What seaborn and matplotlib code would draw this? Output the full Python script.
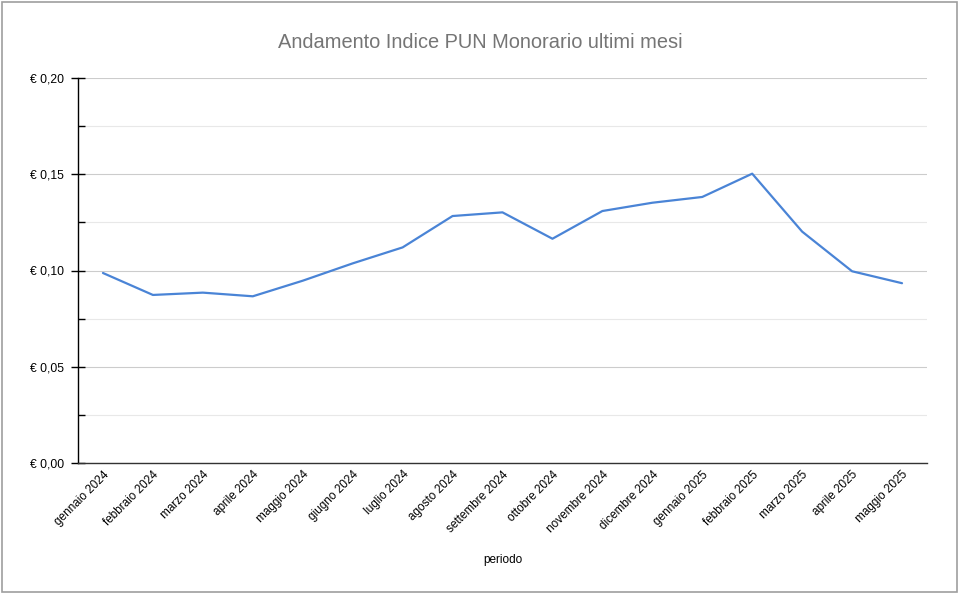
import matplotlib
matplotlib.use("Agg")
import matplotlib.pyplot as plt
import matplotlib.ticker as mticker
from matplotlib.patches import Rectangle
import seaborn as sns
import pandas as pd

periodi = ["gennaio 2024", "febbraio 2024", "marzo 2024", "aprile 2024", "maggio 2024",
           "giugno 2024", "luglio 2024", "agosto 2024", "settembre 2024", "ottobre 2024",
           "novembre 2024", "dicembre 2024", "gennaio 2025", "febbraio 2025", "marzo 2025",
           "aprile 2025", "maggio 2025"]
pun = [0.0987, 0.0873, 0.0885, 0.0866, 0.0947, 0.1037, 0.1120, 0.1283, 0.1302, 0.1165,
       0.1309, 0.1352, 0.1382, 0.1503, 0.1202, 0.0996, 0.0934]
y_ticks = [0.00, 0.05, 0.10, 0.15, 0.20]

df = pd.DataFrame({"periodo": periodi, "pun": pun})

sns.set_theme(style="white")
plt.rcParams["font.family"] = ["Liberation Sans", "DejaVu Sans"]

W, H = 961, 596
fig = plt.figure(figsize=(W / 100, H / 100), dpi=100)
fig.patch.set_facecolor("white")
ax = fig.add_axes([78 / W, 1 - 463 / H, (927 - 78) / W, (463 - 78) / H])

sns.lineplot(data=df, x="periodo", y="pun", ax=ax, color="#4a84d6", linewidth=1.6,
             sort=False)

ax.set_xlim(-0.5, len(periodi) - 0.5)
ax.set_ylim(0, 0.20)
ax.set_yticks(y_ticks)
ax.yaxis.set_minor_locator(mticker.MultipleLocator(0.025))
ax.yaxis.set_major_formatter(mticker.FuncFormatter(lambda v, p: "€ " + f"{v:.2f}".replace(".", ",")))
ax.grid(axis="y", which="major", color="#cccccc", linewidth=0.8)
ax.grid(axis="y", which="minor", color="#e8e8e8", linewidth=0.8)
ax.set_axisbelow(True)

for s in ["top", "right"]:
    ax.spines[s].set_visible(False)
ax.spines["left"].set_color("#000000")
ax.spines["left"].set_linewidth(1.0)
ax.spines["bottom"].set_color("#333333")
ax.spines["bottom"].set_linewidth(1.0)

ax.tick_params(axis="y", which="major", direction="inout", length=10, width=1,
               color="#000000", labelsize=8.7, labelcolor="#000000", pad=5, left=True)
ax.tick_params(axis="y", which="minor", direction="in", length=5, width=1,
               color="#000000", left=True)
ax.tick_params(axis="x", which="both", length=0, labelsize=8.5, labelcolor="#000000", pad=4)
plt.setp(ax.get_xticklabels(), rotation=45, ha="right", rotation_mode="anchor")

ax.set_xlabel("periodo", fontsize=8.5, color="#000000", labelpad=14)
ax.set_ylabel("")

fig.text(480 / W, 1 - 43 / H, "Andamento Indice PUN Monorario ultimi mesi",
         ha="center", va="center", fontsize=14.4, color="#757575")

fig.patches.append(Rectangle((2 / W, 1 - 592 / H), (957 - 2) / W, (592 - 2) / H,
                             transform=fig.transFigure, fill=False,
                             edgecolor="#9e9e9e", linewidth=1.2))

fig.savefig("out.png", dpi=100, facecolor="white")
